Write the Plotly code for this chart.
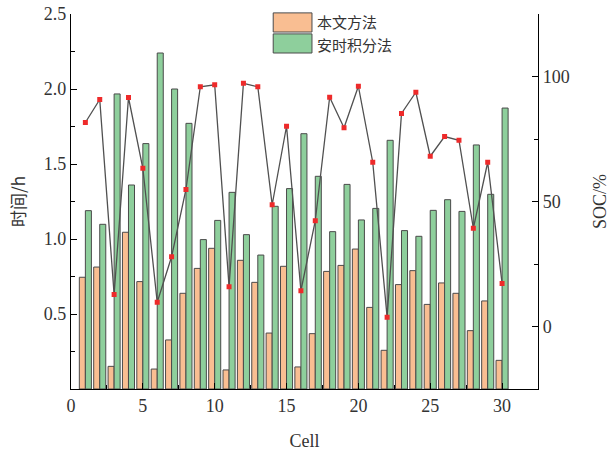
import plotly.graph_objects as go

cells = list(range(1, 31))
t_proposed = [0.745, 0.813, 0.151, 1.045, 0.716, 0.133, 0.327, 0.638, 0.804, 0.938,
              0.127, 0.858, 0.711, 0.373, 0.818, 0.147, 0.369, 0.784, 0.824, 0.933,
              0.544, 0.258, 0.696, 0.789, 0.564, 0.707, 0.638, 0.389, 0.587, 0.191]
t_ah = [1.189, 1.098, 1.967, 1.360, 1.636, 2.240, 2.000, 1.771, 0.996, 1.124,
        1.311, 1.029, 0.893, 1.218, 1.336, 1.702, 1.418, 1.049, 1.364, 1.127,
        1.204, 1.658, 1.056, 1.018, 1.191, 1.262, 1.184, 1.627, 1.298, 1.873]
soc = [81.6, 90.8, 12.8, 91.6, 63.3, 9.7, 27.9, 54.8, 95.9, 96.7,
       15.9, 97.3, 95.9, 48.7, 80.1, 14.3, 42.3, 91.7, 79.5, 96.1,
       65.7, 3.7, 85.2, 93.7, 68.1, 76.0, 74.5, 39.3, 65.7, 17.2]
names = ["本文方法", "安时积分法"]

ORANGE = "#F9BE92"
GREEN = "#8ECF9C"
EDGE = "#4a4a4a"
SERIF = "Liberation Serif, Times New Roman, serif"
CJK = "Noto Sans CJK SC"

fig = go.Figure()
fig.add_trace(go.Bar(x=cells, y=t_proposed, name=names[0], width=0.42, offset=-0.42,
                     marker=dict(color=ORANGE, line=dict(color=EDGE, width=1)), showlegend=False))
fig.add_trace(go.Bar(x=cells, y=t_ah, name=names[1], width=0.42, offset=0,
                     marker=dict(color=GREEN, line=dict(color=EDGE, width=1)), showlegend=False))
fig.add_trace(go.Scatter(x=cells, y=soc, yaxis="y2", mode="lines+markers",
                         line=dict(color="#505050", width=1.3),
                         marker=dict(symbol="square", size=5, color="#EE2A2A"),
                         showlegend=False))

axis_common = dict(showline=True, linecolor="black", linewidth=1.2, ticks="inside",
                   tickcolor="black", ticklen=6, tickwidth=1, showgrid=False, zeroline=False,
                   automargin=False,
                   tickfont=dict(family=SERIF, size=18, color="#333"))

fig.update_layout(
    width=610, height=457,
    margin=dict(l=71, r=72, t=14, b=68),
    paper_bgcolor="white", plot_bgcolor="white",
    barmode="overlay",
    xaxis=dict(range=[0, 32.5], tickvals=[0, 5, 10, 15, 20, 25, 30],
               minor=dict(dtick=2.5, tick0=0, ticks="inside", ticklen=4, tickcolor="black"),
               title=dict(text="Cell", font=dict(family=SERIF, size=18, color="#333"), standoff=19),
               **axis_common),
    yaxis=dict(range=[0, 2.5], tickvals=[0.5, 1.0, 1.5, 2.0, 2.5], ticktext=["0.5", "1.0", "1.5", "2.0", "2.5"],
               minor=dict(dtick=0.25, tick0=0, ticks="inside", ticklen=4, tickcolor="black"),
               title=dict(text="时间/h", font=dict(family=CJK, size=17, color="#333"), standoff=13),
               **axis_common),
    yaxis2=dict(range=[-25, 125], overlaying="y", side="right", tickvals=[0, 50, 100],
                minor=dict(dtick=25, tick0=0, ticks="inside", ticklen=4, tickcolor="black"),
                title=dict(text="SOC/%", font=dict(family=SERIF, size=18, color="#333"), standoff=24),
                **axis_common),
)

# manual legend
legend_items = [(names[0], ORANGE, 1.003, 0.952, 0.9787), (names[1], GREEN, 0.947, 0.896, 0.9187)]
for label, col, y1, y0, ty in legend_items:
    fig.add_shape(type="rect", xref="paper", yref="paper", x0=0.433, x1=0.516, y0=y0, y1=y1,
                  fillcolor=col, line=dict(color=EDGE, width=1))
    fig.add_annotation(xref="paper", yref="paper", x=0.524, y=ty, text=label,
                       showarrow=False, xanchor="left", yanchor="middle", borderpad=0,
                       font=dict(family=CJK, size=15, color="#333"))

fig.write_html("out.html")
